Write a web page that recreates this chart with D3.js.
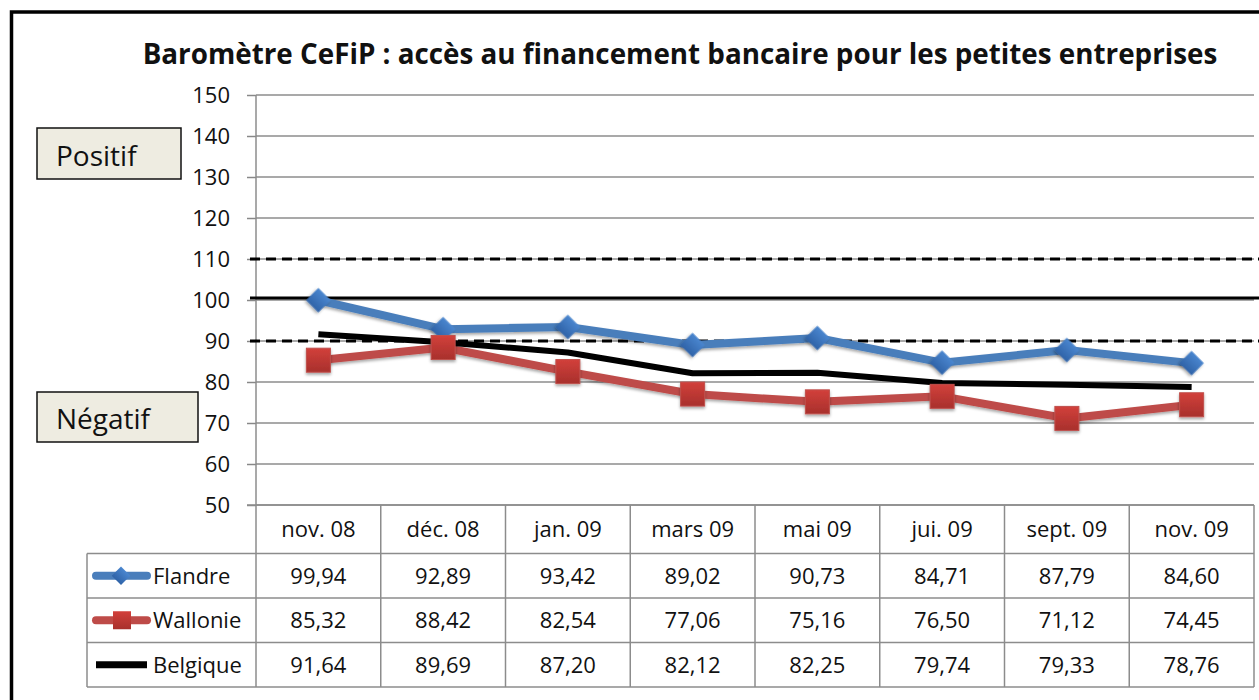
<!DOCTYPE html>
<html>
<head>
<meta charset="utf-8">
<script src="https://cdn.jsdelivr.net/npm/d3@7"></script>
<style>
  body { margin: 0; background: #fff; }
  svg { display: block; font-family: "Open Sans", Lato, sans-serif; }
</style>
</head>
<body>
<script>
// data
const months = ['nov. 08', 'déc. 08', 'jan. 09', 'mars 09', 'mai 09', 'jui. 09', 'sept. 09', 'nov. 09'];
const flandre = [99.94, 92.89, 93.42, 89.02, 90.73, 84.71, 87.79, 84.60];
const wallonie = [85.32, 88.42, 82.54, 77.06, 75.16, 76.50, 71.12, 74.45];
const belgique = [91.64, 89.69, 87.20, 82.12, 82.25, 79.74, 79.33, 78.76];
const yTicks = [50, 60, 70, 80, 90, 100, 110, 120, 130, 140, 150];
const refLines = [110, 100, 90];
const seriesNames = ['Flandre', 'Wallonie', 'Belgique'];

const width = 1259, height = 700;
const plotLeft = 256, plotRight = 1254;
const rowH = 44.5;
const fs = 22;

const svg = d3.select('body').append('svg')
  .attr('width', width).attr('height', height);

const defs = svg.append('defs');
const shadow = defs.append('filter').attr('id', 'shadow')
  .attr('x', '-50%').attr('y', '-50%').attr('width', '200%').attr('height', '200%');
shadow.append('feDropShadow').attr('dx', 0).attr('dy', 2).attr('stdDeviation', 1.5)
  .attr('flood-color', '#000').attr('flood-opacity', 0.35);

function grad(id, c1, c2) {
  const g = defs.append('linearGradient').attr('id', id)
    .attr('x1', 0).attr('y1', 0).attr('x2', 0).attr('y2', 1);
  g.append('stop').attr('offset', '0%').attr('stop-color', c1);
  g.append('stop').attr('offset', '100%').attr('stop-color', c2);
}
grad('gBlue', '#4a86cf', '#2f63a8');
grad('gRed', '#d2403b', '#a8302c');

// outer frame
svg.append('rect')
  .attr('x', 11.5).attr('y', 12).attr('width', 1270).attr('height', 720)
  .attr('fill', 'none').attr('stroke', '#000').attr('stroke-width', 3.5);

// title
svg.append('text')
  .attr('x', 680).attr('y', 64)
  .attr('text-anchor', 'middle')
  .attr('font-weight', 'bold').attr('font-size', 27.8)
  .attr('fill', '#111')
  .text('Baromètre CeFiP : accès au financement bancaire pour les petites entreprises');

const x = d3.scaleBand().domain(months).range([plotLeft, plotRight]);
const y = d3.scaleLinear().domain([50, 150]).range([505, 95]);

// gridlines + y axis
const yAxis = d3.axisLeft(y).tickValues(yTicks).tickSize(9).tickPadding(17);
const gy = svg.append('g').attr('transform', `translate(${plotLeft},0)`).call(yAxis);
gy.select('.domain').remove();
gy.selectAll('.tick line').attr('stroke', '#888').attr('stroke-width', 1.5);
gy.selectAll('.tick text').attr('font-size', fs).attr('fill', '#111')
  .attr('font-family', '"Open Sans", Lato, sans-serif');

svg.append('g').selectAll('line').data(yTicks).join('line')
  .attr('x1', plotLeft).attr('x2', plotRight)
  .attr('y1', d => y(d)).attr('y2', d => y(d))
  .attr('stroke', '#8c8c8c').attr('stroke-width', 1.5);

// vertical axis line
svg.append('line')
  .attr('x1', plotLeft).attr('x2', plotLeft).attr('y1', y(150)).attr('y2', 505)
  .attr('stroke', '#8c8c8c').attr('stroke-width', 1.5);

// reference lines
svg.append('g').selectAll('line').data(refLines).join('line')
  .attr('x1', 250).attr('x2', width)
  .attr('y1', d => y(d) - (d === 100 ? 2 : 0)).attr('y2', d => y(d) - (d === 100 ? 2 : 0))
  .attr('stroke', '#000').attr('stroke-width', 3)
  .attr('stroke-dasharray', d => d === 100 ? null : '10,6');

// Positif / Négatif boxes
const boxes = [
  { label: 'Positif', x: 37, y: 128, w: 144, h: 51 },
  { label: 'Négatif', x: 37, y: 392, w: 161, h: 50 }
];
const bg = svg.append('g').selectAll('g').data(boxes).join('g');
bg.append('rect')
  .attr('x', d => d.x).attr('y', d => d.y).attr('width', d => d.w).attr('height', d => d.h)
  .attr('fill', '#eeece1').attr('stroke', '#111').attr('stroke-width', 1.5);
bg.append('text')
  .attr('x', d => d.x + 19).attr('y', d => d.y + d.h / 2 + 12)
  .attr('font-size', 28).attr('fill', '#111')
  .text(d => d.label);

// series lines
const cx = d => x(d) + x.bandwidth() / 2;
const line = d3.line().x((d, i) => cx(months[i])).y(d => y(d));

svg.append('path').datum(flandre).attr('d', line)
  .attr('fill', 'none').attr('stroke', '#4a7ebb').attr('stroke-width', 8)
  .attr('stroke-linejoin', 'round').attr('filter', 'url(#shadow)');
svg.append('path').datum(wallonie).attr('d', line)
  .attr('fill', 'none').attr('stroke', '#be4b48').attr('stroke-width', 8)
  .attr('stroke-linejoin', 'round').attr('filter', 'url(#shadow)');
svg.append('path').datum(belgique).attr('d', line)
  .attr('fill', 'none').attr('stroke', '#000').attr('stroke-width', 6)
  .attr('stroke-linejoin', 'round');

const diamond = d3.symbol().type(d3.symbolSquare).size(300);
svg.append('g').selectAll('path').data(flandre).join('path')
  .attr('d', diamond())
  .attr('transform', (d, i) => `translate(${cx(months[i])},${y(d)}) rotate(45)`)
  .attr('fill', 'url(#gBlue)').attr('filter', 'url(#shadow)');

svg.append('g').selectAll('rect').data(wallonie).join('rect')
  .attr('x', (d, i) => cx(months[i]) - 12).attr('y', d => y(d) - 12)
  .attr('width', 24).attr('height', 24)
  .attr('fill', 'url(#gRed)').attr('stroke', '#c0504d').attr('stroke-width', 1)
  .attr('filter', 'url(#shadow)');

// data table
const tableTop = 505;
const tbl = svg.append('g');
const gridColor = '#8c8c8c';

// header row
tbl.append('line').attr('x1', 247).attr('x2', plotRight).attr('y1', tableTop).attr('y2', tableTop)
  .attr('stroke', gridColor).attr('stroke-width', 1.5);
tbl.selectAll('.vline').data(months.concat(['end'])).join('line')
  .attr('x1', (d, i) => i < months.length ? x(d) : plotRight)
  .attr('x2', (d, i) => i < months.length ? x(d) : plotRight)
  .attr('y1', tableTop).attr('y2', tableTop + 48.5 + rowH * 3)
  .attr('stroke', gridColor).attr('stroke-width', 1.5);
tbl.selectAll('.hdr').data(months).join('text')
  .attr('x', d => cx(d)).attr('y', tableTop + 32)
  .attr('text-anchor', 'middle').attr('font-size', fs).attr('fill', '#111')
  .text(d => d);

const rowsTop = tableTop + 48.5;
const rowData = [flandre, wallonie, belgique];
// horizontal lines of body rows
tbl.selectAll('.hline').data(d3.range(4)).join('line')
  .attr('x1', 87).attr('x2', plotRight)
  .attr('y1', i => rowsTop + i * rowH).attr('y2', i => rowsTop + i * rowH)
  .attr('stroke', gridColor).attr('stroke-width', 1.5);
tbl.append('line').attr('x1', 87).attr('x2', 87)
  .attr('y1', rowsTop).attr('y2', rowsTop + rowH * 3)
  .attr('stroke', gridColor).attr('stroke-width', 1.5);

const fmt = v => v.toFixed(2).replace('.', ',');
rowData.forEach((vals, r) => {
  const ty = rowsTop + r * rowH + rowH / 2;
  tbl.append('g').selectAll('text').data(vals).join('text')
    .attr('x', (d, i) => cx(months[i])).attr('y', ty + 8)
    .attr('text-anchor', 'middle').attr('font-size', fs).attr('fill', '#111')
    .text(fmt);
  tbl.append('text').attr('x', 153).attr('y', ty + 8)
    .attr('font-size', fs).attr('fill', '#111').text(seriesNames[r]);
});

// legend keys in table
const k0 = rowsTop + rowH / 2;
tbl.append('line').attr('x1', 96).attr('x2', 147).attr('y1', k0).attr('y2', k0)
  .attr('stroke', '#4a7ebb').attr('stroke-width', 8).attr('stroke-linecap', 'round');
tbl.append('path').attr('d', d3.symbol().type(d3.symbolSquare).size(170)())
  .attr('transform', `translate(121,${k0}) rotate(45)`).attr('fill', 'url(#gBlue)');
const k1 = k0 + rowH;
tbl.append('line').attr('x1', 96).attr('x2', 147).attr('y1', k1).attr('y2', k1)
  .attr('stroke', '#be4b48').attr('stroke-width', 8).attr('stroke-linecap', 'round');
tbl.append('rect').attr('x', 113).attr('y', k1 - 9).attr('width', 18).attr('height', 18)
  .attr('fill', 'url(#gRed)');
const k2 = k1 + rowH;
tbl.append('line').attr('x1', 96).attr('x2', 147).attr('y1', k2).attr('y2', k2)
  .attr('stroke', '#000').attr('stroke-width', 7);
</script>
</body>
</html>
